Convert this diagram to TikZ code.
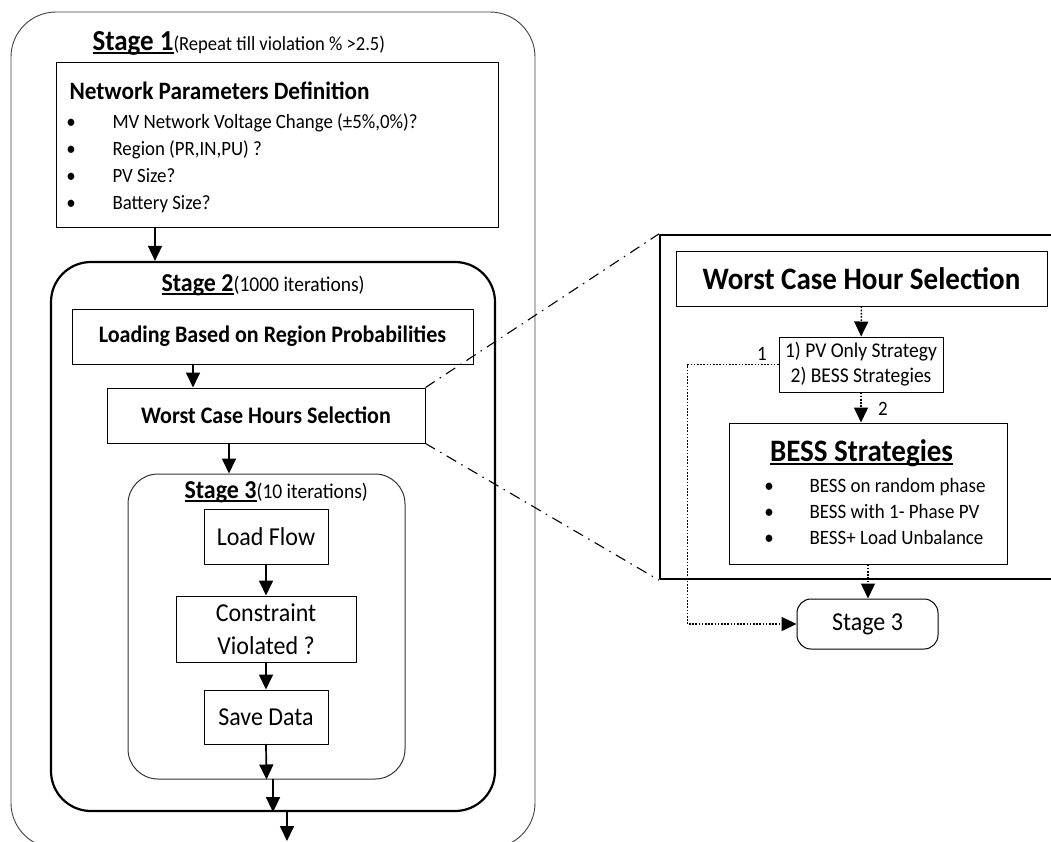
\documentclass[tikz,border=0pt]{standalone}
\usepackage{fontspec}
\setmainfont{Carlito}[FakeStretch=0.93]
\usetikzlibrary{arrows.meta}
\usetikzlibrary{positioning}

\newsavebox{\stagettbox}
\newcommand{\stagett}[1]{\sbox{\stagettbox}{#1}\rlap{\rule[-0.14em]{\wd\stagettbox}{0.065em}}\usebox{\stagettbox}}

\begin{document}
\begin{tikzpicture}[line cap=round,line join=round,x=1pt,y=-1pt,
  >={Triangle[length=15pt,width=14pt]},
  box/.style={draw,line width=1pt,inner sep=0pt,align=center},
  roundbox/.style={draw,inner sep=0pt,align=center,rounded corners=#1},
  flow/.style={->,line width=1.7pt},
  dotflow/.style={->,line width=1.5pt,line cap=butt,dash pattern=on 1.6pt off 1.6pt},
  zoomline/.style={line width=1.1pt,line cap=butt,dash pattern=on 11pt off 6pt on 1.5pt off 6pt}]
\clip (0,0) rectangle (1051,841);
% stage 1
\node[roundbox=45pt,line width=0.9pt,draw=black!75,minimum width=524pt,minimum height=836pt] (stageone) at (273,430) {};
\node[anchor=base west,font=\fontsize{29}{34}\selectfont] (stageonett) at (89,50) {\textbf{\stagett{Stage 1}}\fontsize{20}{24}\selectfont(Repeat till violation \% >2.5)};
\node[box,minimum width=442pt,minimum height=165pt] (netpar) at (277,144.5) {};
\node[anchor=base west,font=\fontsize{25}{30}\selectfont\bfseries] (netparhead) at (66,99) {Network Parameters Definition};
\foreach \txt [count=\i] in {{MV Network Voltage Change (±5\%,0\%)?},{Region (PR,IN,PU) ?},{PV Size?},{Battery Size?}}{
  \node[anchor=base,font=\fontsize{20.3}{24}\selectfont] (netbul\i) at (71,101+27*\i) {\textbullet};
  \node[anchor=base west,font=\fontsize{20.3}{24}\selectfont] (netitem\i) at (109,101+27*\i) {\txt};
}
% stage 2
\node[roundbox=40pt,line width=2.2pt,minimum width=444pt,minimum height=549pt] (stagetwo) at (273,536.5) {};
\node[anchor=base west,font=\fontsize{25.8}{30}\selectfont] (stagetwott) at (158,291) {\textbf{\stagett{Stage 2}}\fontsize{21}{25}\selectfont(1000 iterations)};
\node[box,minimum width=401pt,minimum height=55pt,font=\fontsize{23.7}{28}\selectfont\bfseries] (loading) at (272.5,336.5) {Loading Based on Region Probabilities};
\node[box,minimum width=318pt,minimum height=55pt,font=\fontsize{23.7}{28}\selectfont\bfseries] (wchs) at (266,415.5) {Worst Case Hours Selection};
% stage 3
\node[roundbox=30pt,line width=1pt,draw=black!80,minimum width=277pt,minimum height=305pt] (stagethree) at (266.5,626.5) {};
\node[anchor=base west,font=\fontsize{25.8}{30}\selectfont] (stagethreett) at (181,498) {\textbf{\stagett{Stage 3}}\fontsize{21}{25}\selectfont(10 iterations)};
\node[box,minimum width=124pt,minimum height=55pt,font=\fontsize{25.8}{30}\selectfont] (loadflow) at (266,536.5) {Load Flow};
\node[box,minimum width=180pt,minimum height=66pt,font=\fontsize{25.8}{33}\selectfont] (constr) at (266,629) {Constraint\\Violated ?};
\node[box,minimum width=124pt,minimum height=54pt,font=\fontsize{25.8}{30}\selectfont] (savedata) at (266,717) {Save Data};
\coordinate (stageoneout) at (287,841);

\draw[flow] ([xshift=-122pt]netpar.south) -- ([xshift=-122pt]netpar.south |- stagetwo.north);
\draw[flow] ([xshift=-79.5pt]loading.south) -- ([xshift=-79.5pt]loading.south |- wchs.north);
\draw[flow] ([xshift=-37pt]wchs.south) -- ([xshift=-37pt]wchs.south |- stagethree.north);
\draw[flow] (loadflow) -- (constr);
\draw[flow] (constr) -- (savedata);
\draw[flow] (savedata.south) -- (stagethree.south);
\draw[flow] ([xshift=6.5pt]stagethree.south) -- ([xshift=6.5pt]stagethree.south |- stagetwo.south);
\draw[flow] ([xshift=14pt]stagetwo.south) -- (stageoneout);

% zoomed view
\node[box,line width=2.2pt,minimum width=400pt,minimum height=344pt] (zoombox) at (860,407) {};
\node[box,minimum width=371pt,minimum height=55pt,font=\fontsize{31.2}{36}\selectfont\bfseries] (wchsr) at (861.5,278.5) {Worst Case Hour Selection};
\node[box,minimum width=164pt,minimum height=55pt,font=\fontsize{21}{25}\selectfont] (strat) at (861,364.5) {1) PV Only Strategy\\2) BESS Strategies};
\node[box,minimum width=278pt,minimum height=141pt] (bess) at (868,493.5) {};
\node[anchor=base,font=\fontsize{31.2}{36}\selectfont\bfseries] (besshead) at (861.5,461) {\stagett{BESS Strategies}};
\foreach \txt [count=\i] in {BESS on random phase,BESS with 1- Phase PV,BESS+ Load Unbalance}{
  \node[anchor=base,font=\fontsize{20.4}{24}\selectfont] (bessbul\i) at (769,466+26*\i) {\textbullet};
  \node[anchor=base west,font=\fontsize{20.4}{24}\selectfont] (bessitem\i) at (806,466+26*\i) {\txt};
}
\node[roundbox=14pt,line width=1pt,minimum width=141pt,minimum height=50pt,font=\fontsize{25.8}{30}\selectfont] (stagethreer) at (867.5,624) {Stage 3};
\node[anchor=base,font=\fontsize{20.4}{24}\selectfont] (labone) at (762,360) {1};
\node[anchor=base,font=\fontsize{20.4}{24}\selectfont] (labtwo) at (883,415) {2};

\draw[dotflow] (wchsr) -- (strat);
\draw[dotflow] (strat.south) -- (strat.south |- bess.north);
\draw[dotflow] (bess.south) -- (bess.south |- stagethreer.north);
\draw[dotflow] (strat.west) -- ++(-91,0) |- (stagethreer.west);

\draw[zoomline] (wchs.north east) -- (zoombox.north west);
\draw[zoomline] (wchs.south east) -- (zoombox.south west);
\end{tikzpicture}
\end{document}
